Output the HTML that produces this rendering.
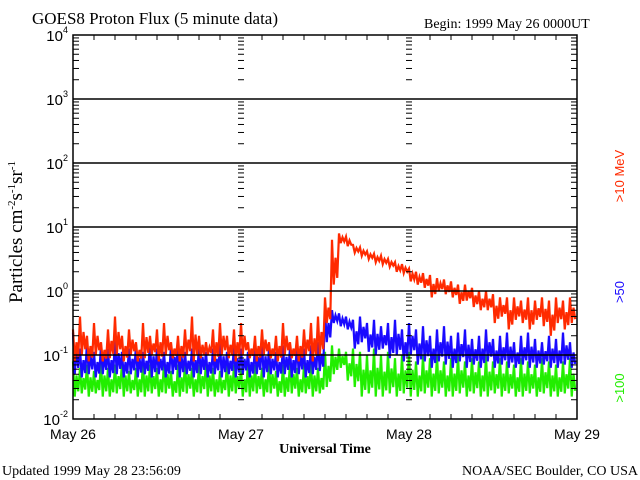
<!DOCTYPE html>
<html><head><meta charset="utf-8"><style>
body{margin:0;background:#fff}
svg{display:block}
text{font-family:"Liberation Serif",serif}
</style></head><body>
<svg id="c" width="640" height="480" xmlns="http://www.w3.org/2000/svg">
<text x="32" y="24" font-size="17">GOES8 Proton Flux (5 minute data)</text>
<text x="424" y="28" font-size="14">Begin: 1999 May 26 0000UT</text>
<text transform="translate(22,232) rotate(-90)" text-anchor="middle" font-size="19">Particles cm<tspan dy="-7" font-size="11">-2</tspan><tspan dy="7">s</tspan><tspan dy="-7" font-size="11">-1</tspan><tspan dy="7">sr</tspan><tspan dy="-7" font-size="11">-1</tspan></text>
<text transform="translate(624,176) rotate(-90)" text-anchor="middle" font-size="13" fill="#ff2a00" style="font-family:'Liberation Sans',sans-serif">&gt;10 MeV</text>
<text transform="translate(624,292) rotate(-90)" text-anchor="middle" font-size="13" fill="#1a0aff" style="font-family:'Liberation Sans',sans-serif">&gt;50</text>
<text transform="translate(624,388) rotate(-90)" text-anchor="middle" font-size="13" fill="#22ee00" style="font-family:'Liberation Sans',sans-serif">&gt;100</text>
<text x="325" y="453" text-anchor="middle" font-size="14" font-weight="bold">Universal Time</text>
<text x="2" y="475" font-size="14">Updated 1999 May 28 23:56:09</text>
<text x="638" y="475" text-anchor="end" font-size="14">NOAA/SEC Boulder, CO USA</text>
<g id="plot"></g>
</svg>
<script>
const dayLabels=["May 26","May 27","May 28","May 29"];
const decades=[-2,-1,0,1,2,3,4];
const redHi=[-0.6,-0.4,-0.7,-0.5,-0.8,-0.6,-0.4,-0.7,-0.6,-0.8,-0.5,-0.7,-0.6,-0.5,-0.8,-0.7,-0.6,-0.4,-0.7,-0.8,-0.6,-0.5,-0.7,-0.6,-0.5,-0.8,-0.7,-0.6,-0.8,-0.7,-0.5,-0.8,-0.7,-0.6,-0.5,-0.4,-0.1,0.8,0.9,0.85,0.72,0.68,0.62,0.58,0.55,0.5,0.45,0.42,0.35,0.3,0.28,0.25,0.2,0.18,0.15,0.1,0.1,0.05,0,0,-0.05,-0.1,-0.1,-0.1,-0.15,-0.1,-0.15,-0.1,-0.15,-0.1,-0.15,-0.1];
const redLo=[-1.1,-1.0,-1.1,-1.0,-1.1,-1.05,-1.0,-1.1,-1.0,-1.1,-1.05,-1.0,-1.1,-1.0,-1.05,-1.1,-1.0,-1.1,-1.05,-1.0,-1.1,-1.0,-1.05,-1.1,-1.0,-1.05,-1.1,-1.0,-1.05,-1.1,-1.0,-1.05,-1.1,-1.0,-1.1,-1.0,-0.5,0.1,0.75,0.7,0.6,0.55,0.5,0.45,0.42,0.38,0.3,0.28,0.15,0.1,0.05,-0.1,0,-0.05,-0.1,-0.2,-0.15,-0.25,-0.3,-0.3,-0.5,-0.4,-0.6,-0.45,-0.5,-0.6,-0.45,-0.55,-0.7,-0.5,-0.6,-0.5];
const blueHi=[-0.65,-0.9,-0.8,-0.95,-0.85,-0.9,-0.75,-0.95,-0.9,-0.85,-0.95,-0.8,-0.9,-0.95,-0.85,-0.8,-0.95,-0.9,-0.85,-0.95,-0.9,-0.8,-0.95,-0.85,-0.9,-0.95,-0.85,-0.8,-0.9,-0.95,-0.85,-0.9,-0.8,-0.9,-0.85,-0.8,-0.3,-0.3,-0.35,-0.4,-0.45,-0.4,-0.5,-0.45,-0.55,-0.5,-0.45,-0.6,-0.5,-0.6,-0.55,-0.7,-0.6,-0.55,-0.7,-0.65,-0.6,-0.75,-0.7,-0.6,-0.75,-0.7,-0.65,-0.8,-0.7,-0.65,-0.75,-0.8,-0.7,-0.75,-0.65,-0.8];
const blueLo=[-1.3,-1.35,-1.3,-1.35,-1.3,-1.35,-1.3,-1.35,-1.3,-1.35,-1.3,-1.35,-1.3,-1.35,-1.3,-1.35,-1.3,-1.35,-1.3,-1.35,-1.3,-1.35,-1.3,-1.35,-1.3,-1.35,-1.3,-1.35,-1.3,-1.35,-1.3,-1.35,-1.3,-1.35,-1.3,-1.25,-0.8,-0.5,-0.55,-0.6,-0.9,-0.8,-0.95,-1.0,-0.9,-1.05,-1.0,-1.1,-1.0,-1.15,-1.1,-1.2,-1.1,-1.15,-1.2,-1.1,-1.2,-1.15,-1.2,-1.1,-1.2,-1.15,-1.2,-1.2,-1.15,-1.2,-1.2,-1.15,-1.2,-1.2,-1.15,-1.2];
const greenHi=[-1.1,-1.2,-1.15,-1.25,-1.1,-1.2,-1.15,-1.1,-1.25,-1.2,-1.1,-1.15,-1.2,-1.1,-1.25,-1.15,-1.1,-1.2,-1.15,-1.1,-1.2,-1.25,-1.1,-1.15,-1.2,-1.1,-1.15,-1.2,-1.1,-1.25,-1.15,-1.1,-1.2,-1.15,-1.1,-1.2,-0.95,-0.85,-0.9,-0.95,-0.9,-0.95,-1.0,-0.9,-1.0,-0.95,-1.05,-1.0,-0.95,-1.1,-1.0,-1.05,-1.0,-1.1,-1.05,-1.0,-1.1,-1.05,-1.1,-1.0,-1.1,-1.05,-1.1,-1.15,-1.05,-1.1,-1.15,-1.05,-1.1,-1.15,-1.1,-1.05];
const greenLo=[-1.65,-1.6,-1.65,-1.6,-1.65,-1.65,-1.6,-1.65,-1.6,-1.65,-1.65,-1.6,-1.65,-1.6,-1.65,-1.65,-1.6,-1.65,-1.6,-1.65,-1.65,-1.6,-1.65,-1.6,-1.65,-1.65,-1.6,-1.65,-1.6,-1.65,-1.65,-1.6,-1.65,-1.6,-1.65,-1.6,-1.5,-1.3,-1.2,-1.4,-1.5,-1.65,-1.6,-1.65,-1.65,-1.6,-1.65,-1.6,-1.65,-1.65,-1.6,-1.65,-1.6,-1.65,-1.65,-1.6,-1.65,-1.6,-1.65,-1.65,-1.6,-1.65,-1.6,-1.65,-1.65,-1.6,-1.65,-1.6,-1.65,-1.65,-1.6,-1.65];

const X0=73,X1=577,Y0=35,Y1=419;
const xs=h=>X0+(X1-X0)*h/72;
const ys=l=>Y1-(Y1-Y0)*(l+2)/6;
const NS="http://www.w3.org/2000/svg";
const g=document.getElementById('plot');
function mk(t,a){const e=document.createElementNS(NS,t);for(const k in a)e.setAttribute(k,a[k]);g.appendChild(e);return e;}

function series(hi,lo,color,name){
  let pts=[];
  for(let i=0;i<hi.length;i++){
    const mid=lo[i]+0.6*(hi[i]-lo[i]);
    const low2=lo[i]+0.15*(hi[i]-lo[i]);
    pts.push(xs(i)+","+ys(hi[i]));
    pts.push(xs(i+0.25)+","+ys(lo[i]));
    pts.push(xs(i+0.5)+","+ys(mid));
    pts.push(xs(i+0.75)+","+ys(low2));
  }
  const p=mk('polyline',{points:pts.join(' '),fill:'none',stroke:color,'stroke-width':2.2});
  
  
}
series(greenHi,greenLo,'#22ee00','series-gt100');
series(blueHi,blueLo,'#1a0aff','series-gt50');
series(redHi,redLo,'#ff2a00','series-gt10mev');

decades.forEach(d=>{
  const y=ys(d);
  if(d>-2&&d<4){const l=mk('line',{x1:X0,x2:X1,y1:y,y2:y,stroke:'#000','stroke-width':1.5});
    
    }
  const t=mk('text',{x:X0-5,y:y+6,'text-anchor':'end','font-size':15,style:"font-family:'Liberation Sans',sans-serif"});
  t.innerHTML='10<tspan dy="-8" font-size="9">'+d+'</tspan>';
  
  
  if(d<4){for(let m=2;m<=9;m++){
    const yy=ys(d+Math.log10(m));
    mk('line',{x1:X0,x2:X0+6,y1:yy,y2:yy,stroke:'#000'});
    mk('line',{x1:X1,x2:X1-6,y1:yy,y2:yy,stroke:'#000'});
    [1,2].forEach(k=>{const xd=xs(24*k);mk('line',{x1:xd-3,x2:xd+3,y1:yy,y2:yy,stroke:'#000'});});
  }}
});
for(let h=3;h<72;h+=3){
  if(h%24===0)continue;
  mk('line',{x1:xs(h),x2:xs(h),y1:Y0,y2:Y0+5,stroke:'#000'});
  mk('line',{x1:xs(h),x2:xs(h),y1:Y1,y2:Y1-5,stroke:'#000'});
}
const f=mk('rect',{x:X0,y:Y0,width:X1-X0,height:Y1-Y0,fill:'none',stroke:'#000','stroke-width':1.5});


dayLabels.forEach((s,i)=>{
  const xd=xs(24*i);
  const t=mk('text',{x:xd,y:439,'text-anchor':'middle','font-size':14,style:"font-family:'Liberation Sans',sans-serif"});
  t.textContent=s;
  
  
});
</script>
</body></html>
